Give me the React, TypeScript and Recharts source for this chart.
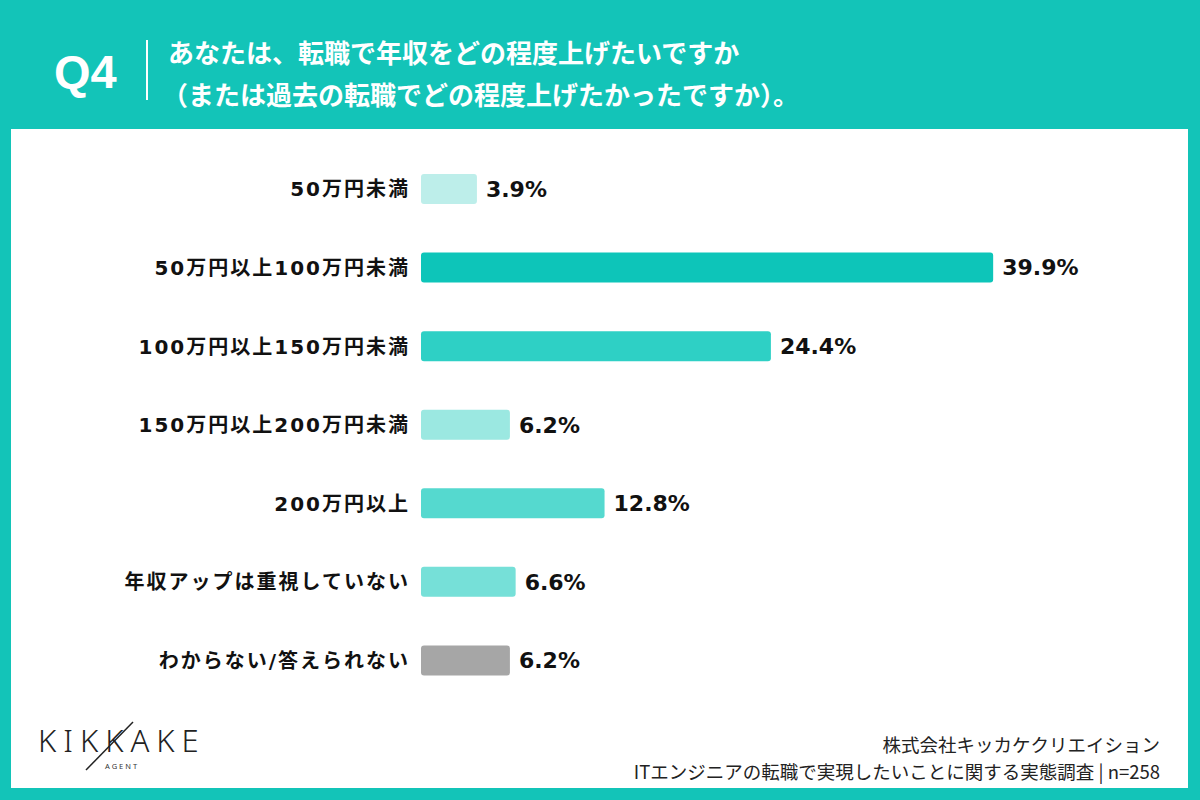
import { BarChart, Bar, XAxis, YAxis, LabelList, Cell } from 'recharts'

const categories = [
  '50万円未満',
  '50万円以上100万円未満',
  '100万円以上150万円未満',
  '150万円以上200万円未満',
  '200万円以上',
  '年収アップは重視していない',
  'わからない/答えられない',
]
const shares = [3.9, 39.9, 24.4, 6.2, 12.8, 6.6, 6.2]
const barColors = ['#bdeeea', '#0dc5b9', '#2ed0c5', '#9be8e1', '#55d9cf', '#76e0d8', '#a6a6a6']

const data = categories.map((name, i) => ({ name, value: shares[i] }))

const FONT = '"Noto Sans CJK JP", "Noto Sans", sans-serif'
const LABEL_FONT = '"DejaVu Sans", "Noto Sans CJK JP", sans-serif'
const TEAL = '#13c4b8'

export default function App() {
  return (
    <div
      style={{
        position: 'absolute',
        left: 0,
        top: 0,
        width: 1200,
        height: 800,
        background: TEAL,
        fontFamily: FONT,
        overflow: 'hidden',
      }}
    >
      {/* header */}
      <div
        style={{
          position: 'absolute',
          left: 54,
          top: 42,
          color: '#fff',
          fontSize: 47,
          fontWeight: 700,
          lineHeight: '60px',
          fontFamily: '"Liberation Sans", sans-serif',
        }}
      >
        Q4
      </div>
      <div style={{ position: 'absolute', left: 146, top: 40, width: 2, height: 60, background: '#fff' }} />
      <div
        style={{
          position: 'absolute',
          left: 168,
          top: 31,
          color: '#fff',
          fontSize: 26,
          fontWeight: 700,
          lineHeight: '42px',
          whiteSpace: 'nowrap',
        }}
      >
        <div>あなたは、転職で年収をどの程度上げたいですか</div>
        <div style={{ marginLeft: -6 }}>（または過去の転職でどの程度上げたかったですか）。</div>
      </div>

      {/* white panel */}
      <div
        style={{
          position: 'absolute',
          left: 11,
          top: 129,
          width: 1177,
          height: 659,
          background: '#fff',
        }}
      />

      <div style={{ position: 'absolute', left: 0, top: 0 }}>
        <BarChart
          width={1200}
          height={800}
          data={data}
          layout="vertical"
          margin={{ top: 150, right: 62, bottom: 100, left: 0 }}
          barCategoryGap={24}
        >
          <XAxis type="number" domain={[0, 50]} hide />
          <YAxis
            type="category"
            dataKey="name"
            width={421}
            axisLine={false}
            tickLine={false}
            tickSize={0}
            tickMargin={11}
            interval={0}
            tick={{ fontSize: 20, fontWeight: 700, fill: '#111', fontFamily: LABEL_FONT, letterSpacing: 2 }}
          />
          <Bar dataKey="value" barSize={30} radius={3} isAnimationActive={false}>
            {data.map((d, i) => (
              <Cell key={d.name} fill={barColors[i]} />
            ))}
            <LabelList
              dataKey="value"
              position="right"
              offset={9}
              formatter={(v: number) => `${v.toFixed(1)}%`}
              style={{ fontSize: 22, fontWeight: 700, fill: '#111', fontFamily: '"DejaVu Sans", sans-serif' }}
            />
          </Bar>
        </BarChart>
      </div>

      {/* logo */}
      <div style={{ position: 'absolute', left: 38, top: 720, width: 180, height: 60 }}>
        <div
          style={{
            fontFamily: '"Noto Sans", sans-serif',
            fontWeight: 300,
            fontSize: 31,
            letterSpacing: 7,
            color: '#222',
            lineHeight: '40px',
          }}
        >
          KIKKAKE
        </div>
        <div
          style={{
            position: 'absolute',
            left: 67,
            top: 41,
            fontSize: 7.5,
            letterSpacing: 2,
            color: '#333',
            fontFamily: '"Noto Sans", sans-serif',
          }}
        >
          AGENT
        </div>
        <svg width={180} height={60} style={{ position: 'absolute', left: 0, top: 0 }}>
          <line x1={48} y1={50} x2={95} y2={2} stroke="#222" strokeWidth={1.5} />
        </svg>
      </div>

      {/* footer */}
      <div
        style={{
          position: 'absolute',
          right: 40,
          top: 731,
          textAlign: 'right',
          fontSize: 18.5,
          lineHeight: '27px',
          color: '#222',
        }}
      >
        <div>株式会社キッカケクリエイション</div>
        <div>ITエンジニアの転職で実現したいことに関する実態調査 | n=258</div>
      </div>
    </div>
  )
}
